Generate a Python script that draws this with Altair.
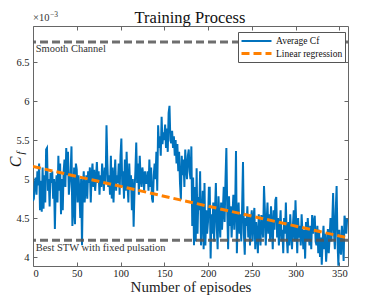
import altair as alt
import pandas as pd

SERIF = "Liberation Serif"

# Average C_f per episode (x 1e-3)
cf = [
    4.72, 4.75, 4.95, 5.02, 4.80, 5.10, 4.92, 5.20, 4.60, 4.98,
    4.58, 5.15, 4.62, 5.05, 4.70, 5.38, 5.40, 4.85, 5.00, 4.65,
    5.08, 4.95, 5.10, 4.75, 5.00, 4.36, 4.90, 5.05, 4.70, 5.30,
    4.85, 5.20, 4.55, 5.00, 4.60, 5.10, 5.25, 4.90, 5.40, 5.05,
    5.35, 4.80, 4.95, 5.10, 5.42, 4.40, 4.60, 5.15, 4.42, 5.20,
    5.12, 4.70, 5.05, 4.85, 4.50, 5.00, 4.15, 4.90, 5.10, 4.70,
    4.85, 5.05, 4.75, 5.10, 4.95, 5.15, 4.70, 5.05, 5.20, 4.90,
    5.12, 4.85, 5.00, 5.22, 4.95, 5.10, 4.80, 5.05, 4.90, 5.20,
    5.00, 4.85, 5.15, 4.95, 5.69, 5.20, 4.90, 5.05, 4.80, 5.30,
    4.75, 5.15, 4.70, 5.00, 5.25, 4.85, 5.05, 4.95, 5.20, 4.80,
    5.30, 5.52, 4.90, 5.10, 4.75, 5.25, 4.85, 5.35, 4.95, 4.70,
    5.20, 4.90, 5.05, 4.60, 5.00, 4.39, 4.85, 5.10, 5.47, 4.95,
    5.20, 4.80, 5.30, 5.00, 4.90, 5.15, 5.05, 4.85, 5.10, 4.95,
    4.95, 5.10, 4.85, 5.25, 4.90, 5.15, 4.75, 4.70, 5.05, 5.20,
    5.00, 5.35, 4.85, 5.69, 5.40, 5.55, 5.30, 5.80, 5.45, 5.60,
    5.50, 5.70, 5.40, 5.65, 5.35, 5.85, 5.94, 5.50, 5.46, 5.62,
    5.40, 5.55, 5.30, 5.50, 5.20, 5.45, 5.10, 5.35, 4.95, 4.74,
    5.30, 5.05, 5.25, 4.90, 5.38, 5.15, 5.00, 5.30, 5.38, 5.10,
    5.00, 5.42, 4.40, 5.02, 4.15, 4.90, 4.20, 5.14, 4.30, 4.77,
    4.60, 5.10, 4.15, 4.50, 4.85, 4.10, 4.95, 4.15, 4.60, 4.30,
    4.45, 4.89, 4.89, 3.98, 4.55, 4.30, 4.70, 4.20, 4.60, 4.95,
    4.40, 4.10, 4.78, 4.50, 4.25, 4.70, 4.35, 4.60, 4.90, 4.45,
    5.00, 5.40, 4.60, 4.10, 4.78, 4.40, 4.65, 4.25, 4.55, 4.80,
    4.35, 4.60, 5.36, 4.05, 4.50, 4.70, 4.30, 4.55, 4.20, 4.65,
    5.22, 4.30, 4.03, 4.50, 4.40, 4.65, 4.25, 4.55, 4.15, 4.45,
    4.60, 4.20, 4.50, 4.63, 4.10, 4.45, 4.30, 4.05, 4.55, 4.35,
    4.15, 4.54, 4.40, 4.25, 4.91, 4.60, 4.15, 4.45, 4.70, 4.30,
    4.55, 4.20, 4.65, 4.40, 4.10, 4.60, 4.35, 4.73, 4.77, 4.25,
    4.50, 4.15, 4.40, 4.60, 4.20, 4.35, 4.05, 4.50, 4.30, 4.70,
    4.25, 4.05, 4.45, 4.15, 4.55, 4.30, 4.10, 4.40, 4.60, 4.20,
    4.73, 4.35, 4.05, 4.50, 4.25, 4.40, 4.15, 4.55, 4.30, 4.10,
    4.35, 3.98, 4.45, 4.20, 4.50, 4.30, 4.15, 4.40, 4.10, 4.54,
    4.30, 4.45, 4.53, 4.20, 4.15, 4.40, 4.05, 4.35, 4.00, 4.25,
    3.90, 4.20, 4.40, 4.10, 4.30, 3.94, 4.15, 4.36, 4.05, 4.25,
    4.50, 4.20, 4.45, 4.82, 4.30, 4.10, 4.60, 4.91, 4.20, 3.89,
    4.35, 4.10, 4.03, 4.40, 4.25, 3.95, 4.53, 4.45, 4.30, 4.49,
]
episodes = list(range(len(cf)))

# Linear regression end points
reg_episodes = [0, 360]
reg_values = [5.162, 4.245]

series_names = ["Average Cf", "Linear regression"]
series_colors = ["#0072BD", "#FF8000"]

# Reference levels
ref_labels = ["Smooth Channel", "Best STW with fixed pulsation"]
ref_values = [6.761, 4.215]
ref_text_values = [6.665, 4.11]
ref_text_episode = 3

x_ticks = [0, 50, 100, 150, 200, 250, 300, 350]
y_ticks = [4, 4.5, 5, 5.5, 6, 6.5]

df_avg = pd.DataFrame({"episode": episodes, "value": cf, "series": series_names[0]})
df_reg = pd.DataFrame({"episode": reg_episodes, "value": reg_values, "series": series_names[1]})
df_ref = pd.DataFrame({"value": ref_values})
df_txt = pd.DataFrame({"episode": [ref_text_episode] * 2, "value": ref_text_values, "label": ref_labels})

x_scale = alt.Scale(domain=[0, 360], nice=False)
y_scale = alt.Scale(domain=[3.885, 6.965], nice=False, zero=False)

legend = alt.Legend(
    title=None, orient="none", legendX=205, legendY=6,
    fillColor="white", strokeColor="#555", padding=2,
    labelFont=SERIF, labelFontSize=9.5, labelColor="#111", labelOffset=21,
    symbolType="M-1,0H4", symbolSize=144, rowPadding=0,
)
color = alt.Color("series:N", scale=alt.Scale(domain=series_names, range=series_colors), legend=legend)
dash = alt.StrokeDash("series:N", scale=alt.Scale(domain=series_names, range=[[1, 0], [8, 4]]), legend=legend)
width = alt.StrokeWidth("series:N", scale=alt.Scale(domain=series_names, range=[2, 3]), legend=legend)

x_main = alt.X("episode:Q", scale=x_scale, axis=alt.Axis(
    title="Number of episodes", values=x_ticks, offset=-4, domain=False, grid=False,
    tickSize=4, tickColor="#666", labelPadding=2, labelFont=SERIF, labelFontSize=10.5,
    labelColor="#222", titleFont=SERIF, titleFontSize=15, titleFontWeight="normal",
    titleColor="#222", titlePadding=1))
y_main = alt.Y("value:Q", scale=y_scale, axis=alt.Axis(
    title=None, values=y_ticks, format="~g", offset=-4, domain=False, grid=False,
    tickSize=4, tickColor="#666", labelPadding=4, labelFont=SERIF, labelFontSize=10.5,
    labelColor="#222"))
x_plain = alt.X("episode:Q", axis=None)
y_plain = alt.Y("value:Q", axis=None)

avg_line = alt.Chart(df_avg).mark_line(clip=True).encode(
    x=x_main, y=y_main, color=color, strokeDash=dash, strokeWidth=width)

reg_line = alt.Chart(df_reg).mark_line(clip=True).encode(
    x=x_plain, y=y_plain, color=color, strokeDash=dash, strokeWidth=width)

rules = alt.Chart(df_ref).mark_rule(
    color="#555", strokeWidth=3, strokeDash=[8, 4], opacity=0.85).encode(y=y_plain)

texts = alt.Chart(df_txt).mark_text(
    align="left", baseline="middle", font=SERIF, fontSize=10.5, color="#333").encode(
    x=x_plain, y=y_plain, text="label:N")

ticks = alt.Chart(df_reg).mark_point(opacity=0).encode(
    x=alt.X("episode:Q", axis=alt.Axis(
        orient="top", labels=False, title=None, values=x_ticks, offset=-4,
        domain=False, grid=False, tickSize=4, tickColor="#666")),
    y=alt.Y("value:Q", axis=alt.Axis(
        orient="right", labels=False, title=None, values=y_ticks, offset=-4,
        domain=False, grid=False, tickSize=4, tickColor="#666")),
)

one = pd.DataFrame({"t": [""]})
title_mark = alt.Chart(one).mark_text(
    text="Training Process", font=SERIF, fontSize=16.5, align="center",
    baseline="alphabetic", color="#111").encode(x=alt.value(157), y=alt.value(-3.5))
c_label = alt.Chart(one).mark_text(
    text="C", font=SERIF, fontSize=16, fontStyle="italic", angle=270,
    align="center", baseline="middle", color="#111").encode(
    x=alt.value(-17), y=alt.value(136))
f_label = alt.Chart(one).mark_text(
    text="f", font=SERIF, fontSize=10.5, fontStyle="italic", angle=270,
    align="center", baseline="middle", color="#111").encode(
    x=alt.value(-12), y=alt.value(127))
exp_a = alt.Chart(one).mark_text(
    text="×10", font=SERIF, fontSize=10.5, align="left", baseline="alphabetic",
    color="#333").encode(x=alt.value(0), y=alt.value(-5))
exp_b = alt.Chart(one).mark_text(
    text="−3", font=SERIF, fontSize=7.5, align="left", baseline="alphabetic",
    color="#333").encode(x=alt.value(17), y=alt.value(-9))

chart = alt.layer(
    avg_line, rules, reg_line, texts, ticks, title_mark, c_label, f_label, exp_a, exp_b
).resolve_axis(x="independent", y="independent").properties(
    width=315, height=240,
    padding={"left": 25, "top": 18, "right": 18, "bottom": 30},
    autosize=alt.AutoSizeParams(type="none"),
).configure_view(stroke="#666", strokeWidth=1)

chart.save("out.html", embed_options={"renderer": "svg", "actions": False})
